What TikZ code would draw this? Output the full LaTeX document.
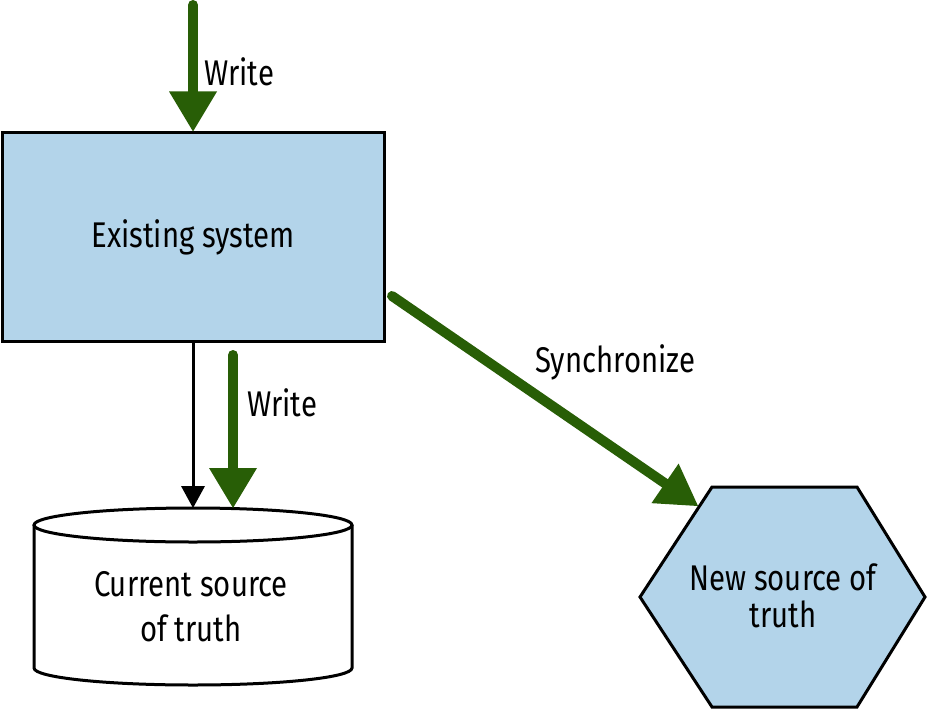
\documentclass[tikz,border=0pt]{standalone}
\usepackage{fontspec}
\setmainfont{Fira Sans}[FakeStretch=0.82]
\usetikzlibrary{arrows.meta}
\definecolor{boxblue}{HTML}{B3D4EA}
\definecolor{arrowgreen}{HTML}{285E06}
\begin{document}
\begin{tikzpicture}[x=0.75pt,y=-0.75pt,
  lbl/.style={font=\fontsize{26.8}{32}\selectfont, inner sep=0pt},
  greenarrow/.style={draw=arrowgreen, line width=7.5pt, line cap=round,
    -{Triangle[width=36pt,length=30pt,line width=0pt]}},
  blackarrow/.style={draw=black, line width=2.25pt,
    -{Triangle[width=18pt,length=16.5pt,line width=0pt]}},
  shapeline/.style={line width=2.25pt, line join=miter}]
\useasboundingbox (0,0) rectangle (930,709);

% cylinder
\draw[shapeline, fill=white] (34,525) -- (34,668)
  arc[start angle=180, end angle=0, x radius=159, y radius=17] -- (352,525);
\draw[shapeline, fill=white] (193,525) ellipse [x radius=159, y radius=17];

% hexagon
\draw[shapeline, fill=boxblue] (712,487) -- (857,487) -- (925,597) -- (857,707)
  -- (712,707) -- (640,597) -- cycle;

\node[draw, fill=boxblue, line width=2.25pt, minimum width=286.5pt,
  minimum height=156pt, font=\fontsize{26.8}{32}\selectfont] (ex) at (193,237) {Existing system};

\node[align=center, font=\fontsize{26.8}{33.75}\selectfont] (cur) at (191,607) {Current source\\of truth};

\node[align=center, font=\fontsize{26.8}{27.75}\selectfont] (new) at (783,596) {New source of\\truth};

\coordinate (ctop) at (193,508);
\coordinate (w1s) at (193,5);
\coordinate (w2s) at (233,355);
\coordinate (ss) at (392,296);
\coordinate (se) at (698,506);

\draw[greenarrow] (w1s) -- (ex.north);
\draw[blackarrow] (ex.south) -- (ctop);
\draw[greenarrow] (w2s) -- (w2s |- ctop);
\draw[greenarrow] (ss) -- (se);

\node[lbl, anchor=west] (l1) at (204,72) {Write};
\node[lbl, anchor=west] (l2) at (247,403) {Write};
\node[lbl, anchor=west] (l3) at (535,362) {Synchronize};
\end{tikzpicture}
\end{document}
